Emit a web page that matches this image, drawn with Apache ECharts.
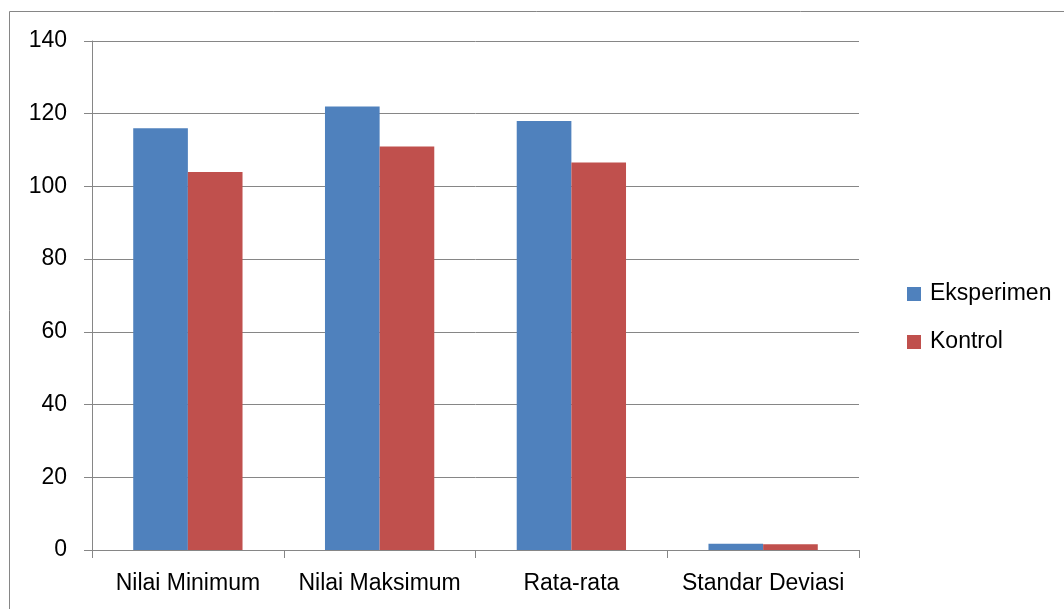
<!DOCTYPE html>
<html>
<head>
<meta charset="utf-8">
<script src="https://cdn.jsdelivr.net/npm/echarts@6/dist/echarts.min.js"></script>
<style>
  html, body { margin: 0; padding: 0; background: #fff; }
  #chart { width: 1064px; height: 609px; }
</style>
</head>
<body>
<div id="chart"></div>
<script>
// Statistik nilai: kelompok eksperimen vs kontrol
const categories = ['Nilai Minimum', 'Nilai Maksimum', 'Rata-rata', 'Standar Deviasi'];
const eksperimen = [116, 122, 118, 1.7];
const kontrol = [104, 111, 106.6, 1.6];
const yTicks = { min: 0, max: 140, interval: 20 };

const FONT = 'Liberation Sans';
const AXIS_GRAY = '#868686';

const chart = echarts.init(document.getElementById('chart'), null, { renderer: 'canvas' });

chart.setOption({
  animation: false,
  backgroundColor: '#ffffff',
  textStyle: { fontFamily: FONT, color: '#000' },
  grid: { left: 92, right: 205, top: 41, bottom: 59, containLabel: false },
  legend: {
    orient: 'vertical',
    left: 902,
    top: 277,
    itemWidth: 14,
    itemHeight: 14,
    itemGap: 24,
    icon: 'rect',
    textStyle: { fontFamily: FONT, fontSize: 23, color: '#000', lineHeight: 24, padding: [0, 0, 0, 4] },
    data: ['Eksperimen', 'Kontrol']
  },
  xAxis: {
    type: 'category',
    data: categories,
    axisLine: { lineStyle: { color: AXIS_GRAY, width: 1 } },
    axisTick: { show: true, length: 8, lineStyle: { color: AXIS_GRAY } },
    axisLabel: { fontFamily: FONT, fontSize: 23, color: '#000', margin: 22, interval: 0 },
    splitLine: { show: false }
  },
  yAxis: {
    type: 'value',
    min: yTicks.min,
    max: yTicks.max,
    interval: yTicks.interval,
    axisLine: { show: true, lineStyle: { color: AXIS_GRAY, width: 1 } },
    axisTick: { show: true, length: 8, lineStyle: { color: AXIS_GRAY } },
    axisLabel: { fontFamily: FONT, fontSize: 23, color: '#000', margin: 25 },
    splitLine: { show: true, lineStyle: { color: AXIS_GRAY, width: 1 } }
  },
  series: [
    {
      name: 'Eksperimen',
      type: 'bar',
      data: eksperimen,
      barGap: '0%',
      barCategoryGap: '43%',
      itemStyle: { color: '#4F81BD' }
    },
    {
      name: 'Kontrol',
      type: 'bar',
      data: kontrol,
      barGap: '0%',
      barCategoryGap: '43%',
      itemStyle: { color: '#C0504D' }
    }
  ],
  graphic: [
    // chart frame: top and left edges
    { type: 'line', silent: true, shape: { x1: 9.5, y1: 11.5, x2: 1064, y2: 11.5 }, style: { stroke: AXIS_GRAY, lineWidth: 1 } },
    { type: 'line', silent: true, shape: { x1: 9.5, y1: 11.5, x2: 9.5, y2: 609 }, style: { stroke: AXIS_GRAY, lineWidth: 1 } }
  ]
});
</script>
</body>
</html>
